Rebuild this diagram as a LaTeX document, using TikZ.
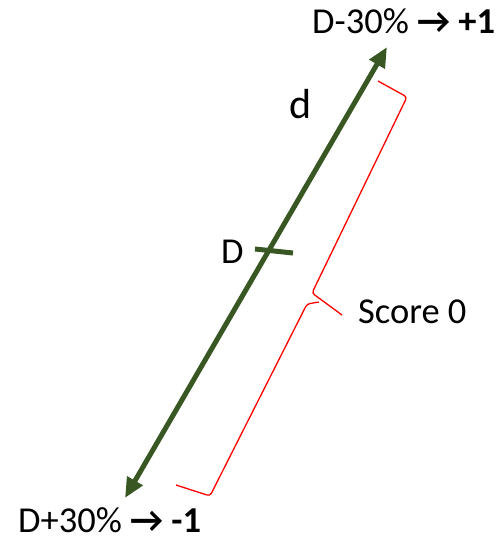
\documentclass[tikz,border=0pt]{standalone}
\usepackage{fontspec}
\setmainfont{Carlito}
\usetikzlibrary{arrows.meta}
\definecolor{dgreen}{HTML}{385723}
\tikzset{
  axisline/.style={draw=dgreen, line width=5pt,
    {Triangle[length=20pt,width=17pt]}-{Triangle[length=20pt,width=17pt]}},
  tickline/.style={draw=dgreen, line width=5pt},
  bracel/.style={draw=red, line width=1.3pt, rounded corners=3pt},
  lbl/.style={font=\fontsize{36.5}{40}\selectfont, inner sep=0pt}
}
\newcommand{\myarr}{{\bfseries →}}
\begin{document}
\begin{tikzpicture}[x=1pt,y=-1pt]
\useasboundingbox (0,0) rectangle (500,542);
\coordinate (top) at (387,47);
\coordinate (bot) at (125,498);
\coordinate (tA) at (255,249);
\coordinate (tB) at (293,253);
\draw[axisline] (bot) -- (top);
\draw[tickline] (tA) -- (tB);
% brace
\coordinate (b1) at (378,81);
\coordinate (b2) at (407,97);
\coordinate (b3) at (312,293);
\coordinate (bt) at (342,315);
\coordinate (b4) at (307,304);
\coordinate (b4h) at (319,302);
\coordinate (b5) at (210,496);
\coordinate (b6) at (176,485);
\draw[bracel] (b1) -- (b2) -- (b3) -- (bt);
\draw[bracel] (b4h) -- (b4) -- (b5) -- (b6);
% labels
\node[lbl, anchor=base west] (ltop) at (312,33) {D-30\% \myarr{} \textbf{+1}};
\node[lbl, anchor=base west] (lbot) at (18,532) {D+30\% \myarr{} \textbf{-1}};
\node[lbl, anchor=base west] (lscore) at (358,323) {Score 0};
\node[lbl, anchor=base west] (lD) at (221,263) {D};
\node[font=\fontsize{42}{46}\selectfont, inner sep=0pt, anchor=base west] (ld) at (289,118) {d};
\end{tikzpicture}
\end{document}
